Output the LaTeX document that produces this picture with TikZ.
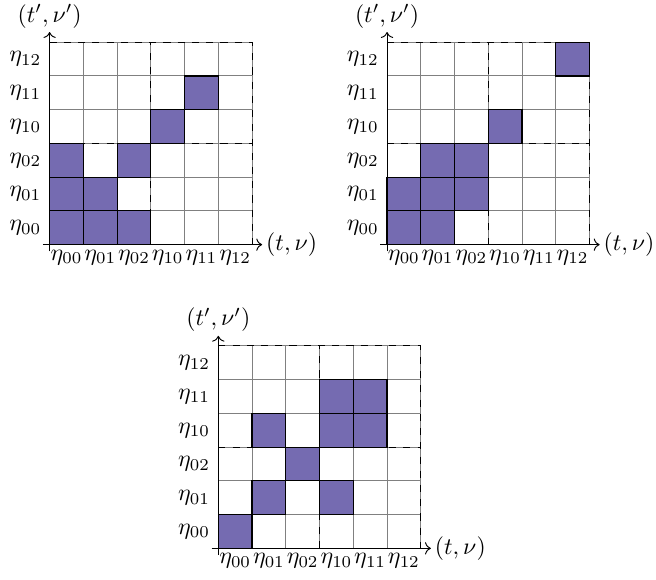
\documentclass[tikz,border=0pt]{standalone}
\usepackage{amsmath,amssymb}
\usetikzlibrary{arrows.meta}
\definecolor{cellpurple}{RGB}{117,107,177}

\begin{document}
\begin{tikzpicture}[x=0.5cm, y=0.5cm, >=To,
  gridline/.style={gray, line width=0.4pt},
  blockline/.style={dashed, black, line width=0.4pt},
  cellbox/.style={draw=black, fill=cellpurple, line width=0.5pt},
  axisline/.style={->, black, line width=0.4pt},
  lbl/.style={inner sep=2pt},
  axlbl/.style={inner sep=1.5pt}]
\useasboundingbox (-1.47,-9.92) rectangle (17.97,7.25);
% one 6x6 block matrix per panel: name / shift / filled cells (column/row)
\foreach \g/\sx/\sy/\cells in {
  a/0/0/{0/0,1/0,2/0,0/1,1/1,0/2,2/2,3/3,4/4},
  b/10/0/{0/0,1/0,0/1,1/1,2/1,1/2,2/2,3/3,5/5},
  c/5/-9/{0/0,1/1,3/1,2/2,1/3,3/3,4/3,3/4,4/4}}{
\begin{scope}[shift={(\sx,\sy)}]
  % grey cell grid
  \draw[gridline, step=0.5cm] (0,0) grid (6,6);
  % dashed block borders
  \draw[blockline] (0,3) -- (6,3) (3,0) -- (3,6) (0,6) -- (6,6) -- (6,0);
  % filled cells
  \foreach \c/\r in \cells
    \draw[cellbox] (\c,\r) rectangle ++(1,1);
  % axes
  \coordinate (\g x0) at (-0.2,0);
  \coordinate (\g x1) at (6.3,0);
  \coordinate (\g y0) at (0,-0.2);
  \coordinate (\g y1) at (0,6.3);
  \draw[axisline] (\g x0) -- (\g x1);
  \draw[axisline] (\g y0) -- (\g y1);
  \node[axlbl, right] (\g xl) at (\g x1) {$(t,\nu)$};
  \node[axlbl, above] (\g yl) at (\g y1) {$(t',\nu')$};
  % tick labels
  \foreach \i/\lab in {0/00,1/01,2/02,3/10,4/11,5/12}{
    \node[lbl, below] (\g bx\i) at (\i+0.5,0) {$\eta_{\lab}$};
    \node[left] (\g ly\i) at (0,\i+0.5) {$\eta_{\lab}$};
  }
\end{scope}}
\end{tikzpicture}
\end{document}
